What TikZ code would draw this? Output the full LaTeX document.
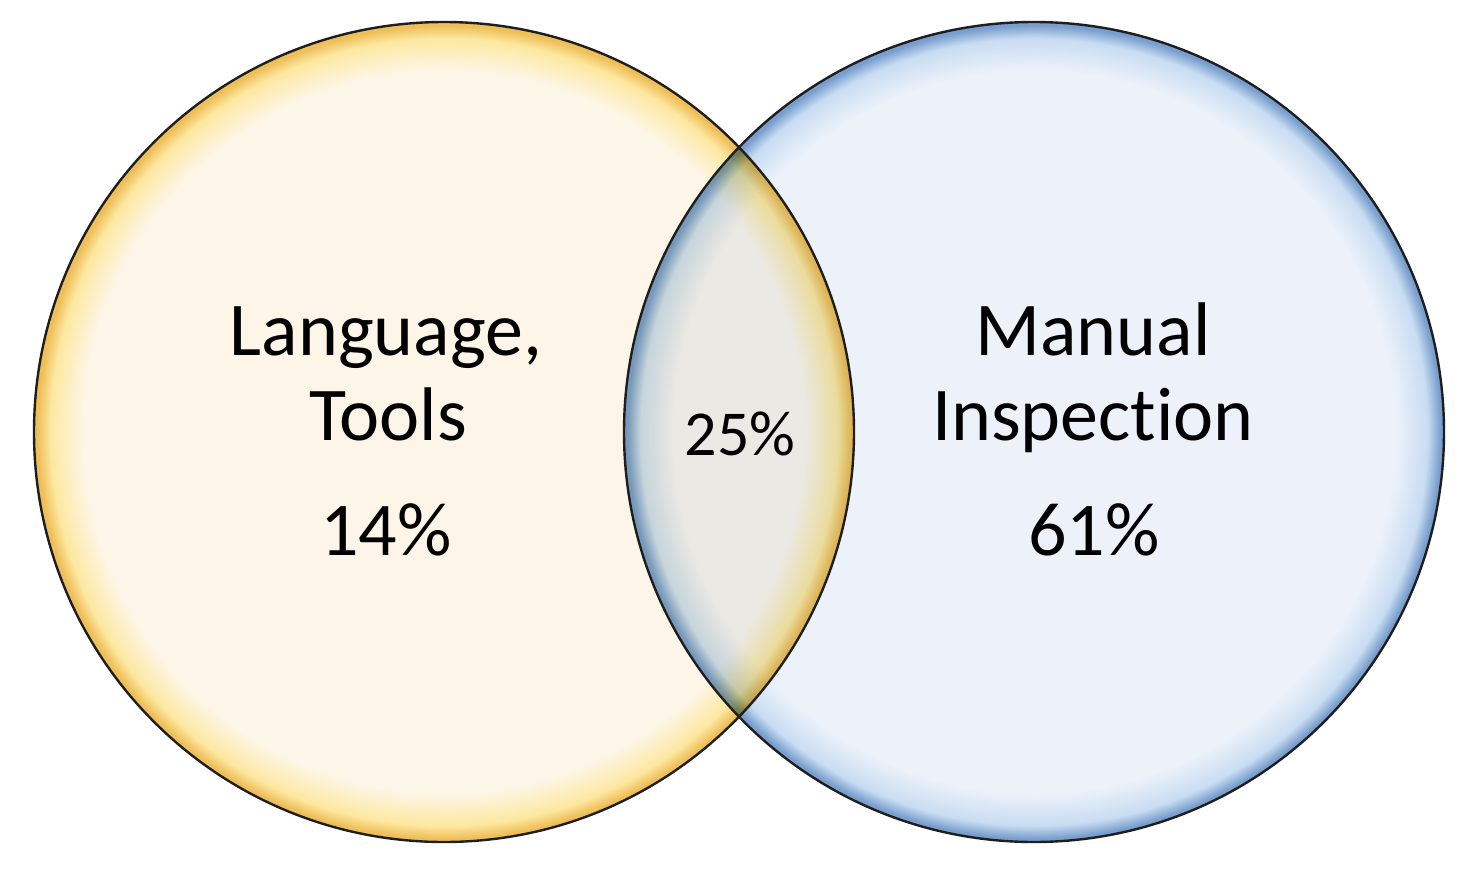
\documentclass[tikz,border=0pt]{standalone}
\usepackage{fontspec}
\setmainfont{Carlito}[Ligatures={NoCommon}]
\definecolor{lcream}{RGB}{253,246,232}
\definecolor{lyel}{RGB}{253,232,160}
\definecolor{lorange}{RGB}{238,190,88}
\definecolor{rcream}{RGB}{237,242,250}
\definecolor{rmid}{RGB}{200,220,242}
\definecolor{rblue}{RGB}{120,158,205}
\definecolor{edgeline}{RGB}{30,30,30}
\pgfdeclareradialshading{leftshade}{\pgfpoint{0bp}{0bp}}{color(0bp)=(lcream); color(22bp)=(lcream); color(24bp)=(lyel); color(24.8bp)=(lorange); color(25bp)=(lorange); color(50bp)=(lorange)}
\pgfdeclareradialshading{rightshade}{\pgfpoint{0bp}{0bp}}{color(0bp)=(rcream); color(22bp)=(rcream); color(24bp)=(rmid); color(24.8bp)=(rblue); color(25bp)=(rblue); color(50bp)=(rblue)}
\tikzset{
  ring/.style={draw=edgeline, line width=2.4pt},
  big/.style={font=\fontsize{76}{80}\selectfont, inner sep=0pt, anchor=base},
  small/.style={font=\fontsize{64}{68}\selectfont, inner sep=0pt, anchor=base}
}
\begin{document}
\begin{tikzpicture}[x=1pt,y=-1pt]
\useasboundingbox (0,0) rectangle (1473,870);
\fill[white] (0,0) rectangle (1473,870);
\coordinate (lc) at (444,432);
\coordinate (rc) at (1034,432);
\begin{scope}[blend group=normal]
  \shade[shading=leftshade] (lc) circle[radius=410];
  \begin{scope}[blend mode=multiply]
    \shade[shading=rightshade] (rc) circle[radius=410];
  \end{scope}
\end{scope}
\draw[ring] (lc) circle[radius=410];
\draw[ring] (rc) circle[radius=410];
\node[big] (lt1) at (386,355) {Language,};
\node[big] (lt2) at (388,440) {Tools};
\node[big] (lp) at (386,555) {14\%};
\node[big] (rt1) at (1093,355) {Manual};
\node[big] (rt2) at (1093,440) {Inspection};
\node[big] (rp) at (1094,555) {61\%};
\node[small] (mid) at (740,455) {25\%};
\end{tikzpicture}
\end{document}
